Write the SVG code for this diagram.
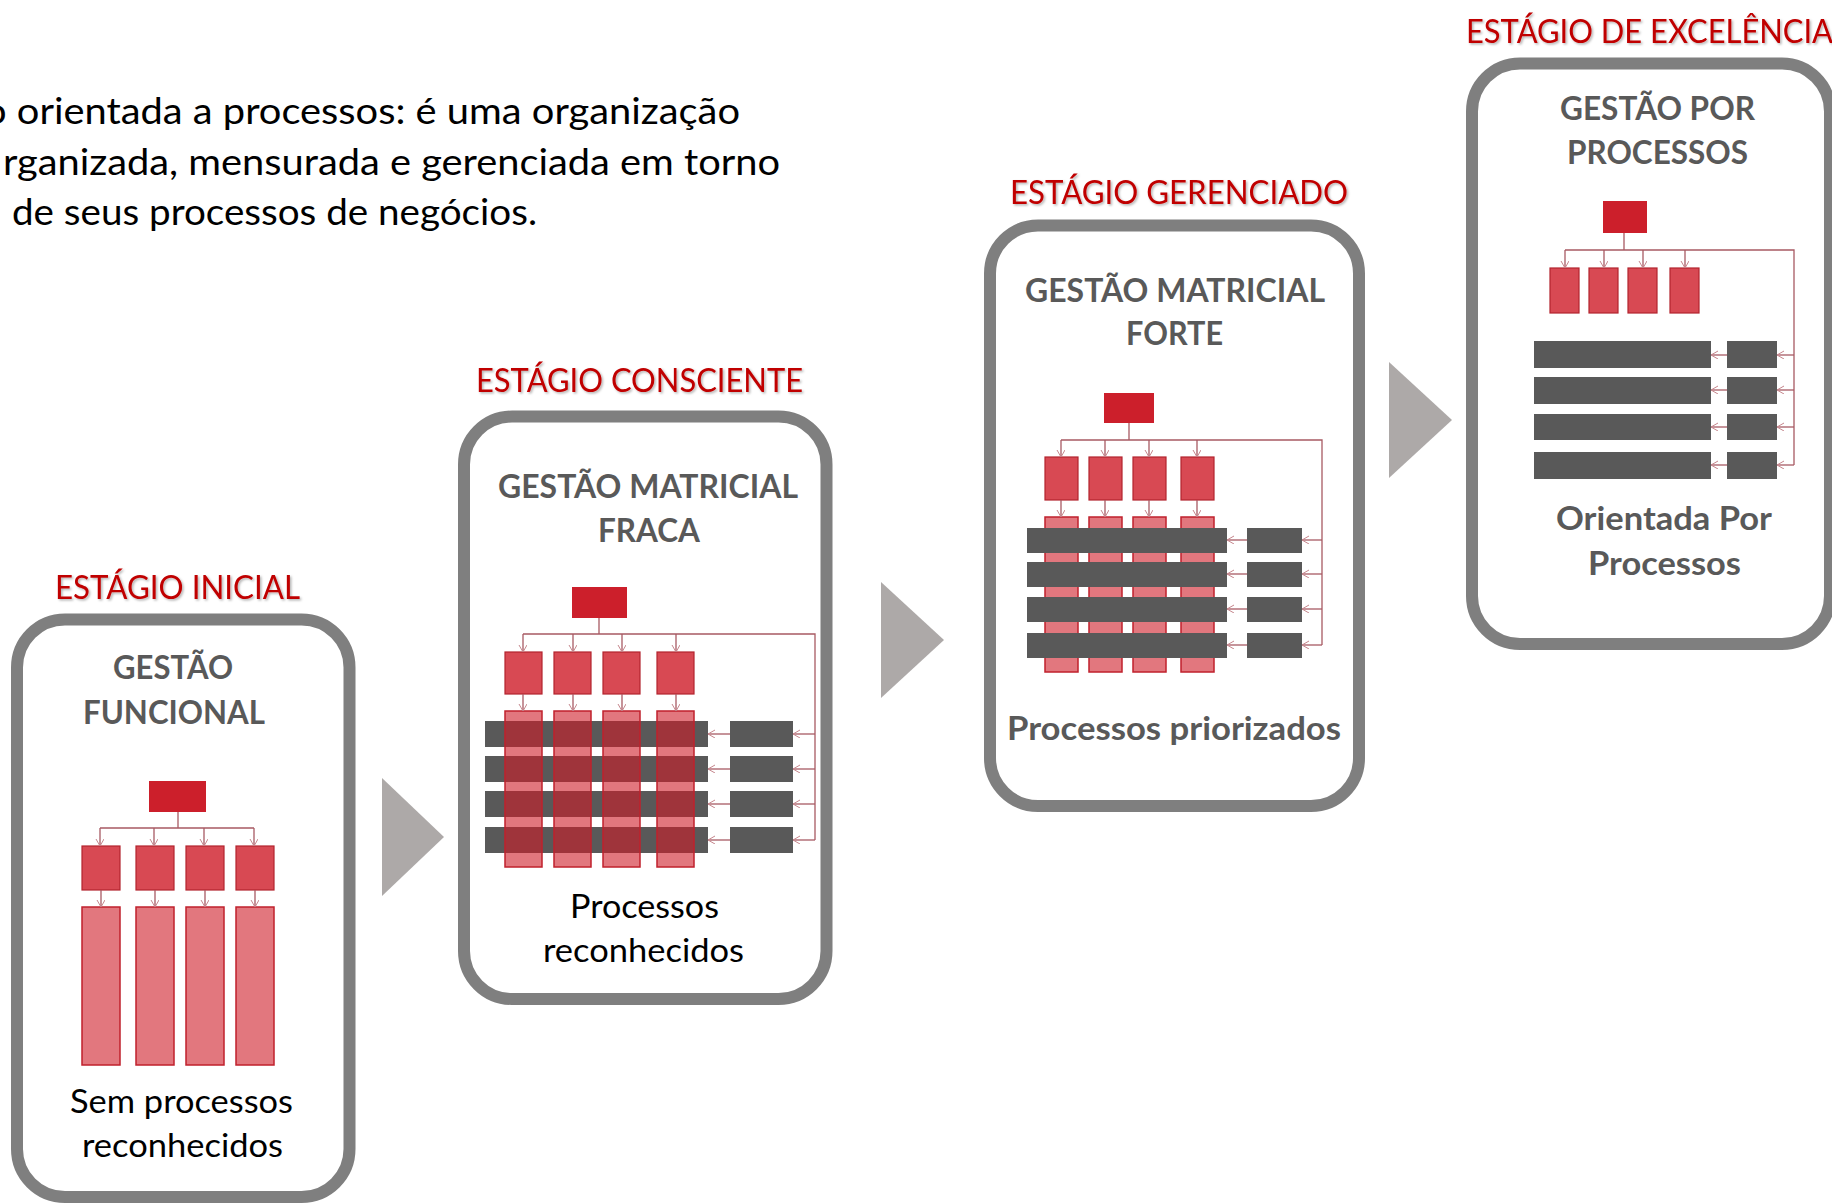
<svg xmlns="http://www.w3.org/2000/svg" width="1832" height="1204" viewBox="0 0 1832 1204">
<defs>
<style>
text{font-family:Lato,"Liberation Sans",sans-serif}
.intro{font-size:37.5px;fill:#000}
.stage{font-size:32.5px;fill:#C00000;filter:url(#sh)}
.title{font-size:32.5px;font-weight:700;fill:#595959}
.body{font-size:32.5px;fill:#000}
.panel{fill:#fff;stroke:#7F7F7F;stroke-width:12}
.head{fill:#CC1F2B}
.mid{fill:#CE1C28;fill-opacity:.8;stroke:#B3232E;stroke-width:1.2}
.tall{fill:#CE1C28;fill-opacity:.6;stroke:#C0202C;stroke-width:1.5}
.bar{fill:#595959}
.tri{fill:#ADA9A8}
.conn{fill:none;stroke:#A85A63;stroke-width:1.3}
.arr{fill:none;stroke:#A85A63;stroke-width:1.3;marker-end:url(#ah)}
</style>
<filter id="sh" x="-5%" y="-20%" width="110%" height="150%">
<feDropShadow dx="1.5" dy="1.5" stdDeviation="1" flood-color="#000" flood-opacity="0.3"/>
</filter>
<marker id="ah" markerUnits="userSpaceOnUse" markerWidth="10" markerHeight="10" refX="7" refY="4" orient="auto">
<path d="M0,0 L7,4 L0,8" fill="none" stroke="#C5868C" stroke-width="1"/>
</marker>
</defs>
<rect width="1832" height="1204" fill="#fff"/>

<g id="intro-text">
<text class="intro" x="-16" y="124" textLength="756" lengthAdjust="spacingAndGlyphs">o orientada a processos: é uma organização</text>
<text class="intro" x="3" y="174.5" textLength="777" lengthAdjust="spacingAndGlyphs">rganizada, mensurada e gerenciada em torno</text>
<text class="intro" x="12" y="225" textLength="525" lengthAdjust="spacingAndGlyphs">de seus processos de negócios.</text>
</g>

<g id="stage-1">
<text class="stage" x="55" y="599" textLength="245" lengthAdjust="spacingAndGlyphs">ESTÁGIO INICIAL</text>
<rect class="panel" x="17" y="619.5" width="332.5" height="577.5" rx="48"/>
<text class="title" x="113" y="679" textLength="120" lengthAdjust="spacingAndGlyphs">GESTÃO</text>
<text class="title" x="83" y="724" textLength="182" lengthAdjust="spacingAndGlyphs">FUNCIONAL</text>
<rect class="head" x="149" y="781" width="57" height="31"/>
<rect class="mid" x="82" y="846" width="38" height="44"/>
<rect class="mid" x="136" y="846" width="38" height="44"/>
<rect class="mid" x="186" y="846" width="38" height="44"/>
<rect class="mid" x="236" y="846" width="38" height="44"/>
<rect class="tall" x="82" y="907" width="38" height="158"/>
<rect class="tall" x="136" y="907" width="38" height="158"/>
<rect class="tall" x="186" y="907" width="38" height="158"/>
<rect class="tall" x="236" y="907" width="38" height="158"/>
<text class="body" x="70" y="1113" textLength="223" lengthAdjust="spacingAndGlyphs">Sem processos</text>
<text class="body" x="82" y="1157" textLength="201" lengthAdjust="spacingAndGlyphs">reconhecidos</text>
</g>

<g id="stage-2">
<text class="stage" x="476" y="392" textLength="327" lengthAdjust="spacingAndGlyphs">ESTÁGIO CONSCIENTE</text>
<rect class="panel" x="464" y="416.5" width="362.5" height="582.5" rx="48"/>
<text class="title" x="498" y="498" textLength="300" lengthAdjust="spacingAndGlyphs">GESTÃO MATRICIAL</text>
<text class="title" x="598" y="542" textLength="102" lengthAdjust="spacingAndGlyphs">FRACA</text>
<rect class="head" x="572" y="587" width="55" height="31"/>
<rect class="mid" x="505" y="652" width="37" height="42"/>
<rect class="mid" x="554" y="652" width="37" height="42"/>
<rect class="mid" x="603" y="652" width="37" height="42"/>
<rect class="mid" x="657" y="652" width="37" height="42"/>
<rect class="bar" x="485" y="721" width="223" height="26"/>
<rect class="bar" x="485" y="756" width="223" height="26"/>
<rect class="bar" x="485" y="791" width="223" height="26"/>
<rect class="bar" x="485" y="827" width="223" height="26"/>
<rect class="bar" x="730" y="721" width="63" height="26"/>
<rect class="bar" x="730" y="756" width="63" height="26"/>
<rect class="bar" x="730" y="791" width="63" height="26"/>
<rect class="bar" x="730" y="827" width="63" height="26"/>
<rect class="tall" x="505" y="711" width="37" height="156"/>
<rect class="tall" x="554" y="711" width="37" height="156"/>
<rect class="tall" x="603" y="711" width="37" height="156"/>
<rect class="tall" x="657" y="711" width="37" height="156"/>
<text class="body" x="570" y="918" textLength="149" lengthAdjust="spacingAndGlyphs">Processos</text>
<text class="body" x="543" y="962" textLength="201" lengthAdjust="spacingAndGlyphs">reconhecidos</text>
</g>

<g id="stage-3">
<text class="stage" x="1010" y="204" textLength="338" lengthAdjust="spacingAndGlyphs">ESTÁGIO GERENCIADO</text>
<rect class="panel" x="990" y="225.5" width="369" height="580.5" rx="48"/>
<text class="title" x="1025" y="302" textLength="300" lengthAdjust="spacingAndGlyphs">GESTÃO MATRICIAL</text>
<text class="title" x="1126" y="345" textLength="97" lengthAdjust="spacingAndGlyphs">FORTE</text>
<rect class="head" x="1104" y="393" width="50" height="30"/>
<rect class="mid" x="1045" y="457" width="33" height="43"/>
<rect class="mid" x="1089" y="457" width="33" height="43"/>
<rect class="mid" x="1133" y="457" width="33" height="43"/>
<rect class="mid" x="1181" y="457" width="33" height="43"/>
<rect class="tall" x="1045" y="517" width="33" height="155"/>
<rect class="tall" x="1089" y="517" width="33" height="155"/>
<rect class="tall" x="1133" y="517" width="33" height="155"/>
<rect class="tall" x="1181" y="517" width="33" height="155"/>
<rect class="bar" x="1027" y="528" width="200" height="25"/>
<rect class="bar" x="1027" y="562" width="200" height="25"/>
<rect class="bar" x="1027" y="597" width="200" height="25"/>
<rect class="bar" x="1027" y="633" width="200" height="25"/>
<rect class="bar" x="1247" y="528" width="55" height="25"/>
<rect class="bar" x="1247" y="562" width="55" height="25"/>
<rect class="bar" x="1247" y="597" width="55" height="25"/>
<rect class="bar" x="1247" y="633" width="55" height="25"/>
<text class="title" x="1007" y="740" textLength="334" lengthAdjust="spacingAndGlyphs">Processos priorizados</text>
</g>

<g id="stage-4">
<text class="stage" x="1466" y="43" textLength="367" lengthAdjust="spacingAndGlyphs">ESTÁGIO DE EXCELÊNCIA</text>
<rect class="panel" x="1472" y="63.5" width="358" height="580.5" rx="48"/>
<text class="title" x="1560" y="120" textLength="195" lengthAdjust="spacingAndGlyphs">GESTÃO POR</text>
<text class="title" x="1567" y="164" textLength="181" lengthAdjust="spacingAndGlyphs">PROCESSOS</text>
<rect class="head" x="1603" y="201" width="44" height="32"/>
<rect class="mid" x="1550" y="268" width="29" height="45"/>
<rect class="mid" x="1589" y="268" width="29" height="45"/>
<rect class="mid" x="1628" y="268" width="29" height="45"/>
<rect class="mid" x="1670" y="268" width="29" height="45"/>
<rect class="bar" x="1534" y="341" width="177" height="27"/>
<rect class="bar" x="1534" y="377" width="177" height="27"/>
<rect class="bar" x="1534" y="414" width="177" height="26"/>
<rect class="bar" x="1534" y="452" width="177" height="27"/>
<rect class="bar" x="1727" y="341" width="50" height="27"/>
<rect class="bar" x="1727" y="377" width="50" height="27"/>
<rect class="bar" x="1727" y="414" width="50" height="26"/>
<rect class="bar" x="1727" y="452" width="50" height="27"/>
<text class="title" x="1556" y="530" textLength="216" lengthAdjust="spacingAndGlyphs">Orientada Por</text>
<text class="title" x="1588" y="575" textLength="153" lengthAdjust="spacingAndGlyphs">Processos</text>
</g>

<g id="stage-arrows">
<polygon class="tri" points="382,778 444,837 382,896"/>
<polygon class="tri" points="881,582 944,640 881,698"/>
<polygon class="tri" points="1389,362 1452,420 1389,478"/>
</g>

<g id="connectors">
<path class="conn" d="M178,812 V828 M100,828 H254"/>
<path class="arr" d="M100,828 V846"/><path class="arr" d="M154,828 V846"/><path class="arr" d="M204,828 V846"/><path class="arr" d="M254,828 V846"/>
<path class="arr" d="M101,890 V907"/><path class="arr" d="M155,890 V907"/><path class="arr" d="M205,890 V907"/><path class="arr" d="M255,890 V907"/>

<path class="conn" d="M599,618 V634 M523,634 H815 V840"/>
<path class="arr" d="M523,634 V652"/><path class="arr" d="M573,634 V652"/><path class="arr" d="M622,634 V652"/><path class="arr" d="M676,634 V652"/>
<path class="arr" d="M523,694 V711"/><path class="arr" d="M573,694 V711"/><path class="arr" d="M622,694 V711"/><path class="arr" d="M676,694 V711"/>
<path class="arr" d="M815,734 H793"/><path class="arr" d="M815,769 H793"/><path class="arr" d="M815,804 H793"/><path class="arr" d="M815,840 H793"/>
<path class="arr" d="M730,734 H708"/><path class="arr" d="M730,769 H708"/><path class="arr" d="M730,804 H708"/><path class="arr" d="M730,840 H708"/>

<path class="conn" d="M1129,423 V440 M1061,440 H1322 V645"/>
<path class="arr" d="M1061,440 V457"/><path class="arr" d="M1105,440 V457"/><path class="arr" d="M1149,440 V457"/><path class="arr" d="M1197,440 V457"/>
<path class="arr" d="M1061,500 V517"/><path class="arr" d="M1105,500 V517"/><path class="arr" d="M1149,500 V517"/><path class="arr" d="M1197,500 V517"/>
<path class="arr" d="M1322,540 H1302"/><path class="arr" d="M1322,574 H1302"/><path class="arr" d="M1322,609 H1302"/><path class="arr" d="M1322,645 H1302"/>
<path class="arr" d="M1247,540 H1227"/><path class="arr" d="M1247,574 H1227"/><path class="arr" d="M1247,609 H1227"/><path class="arr" d="M1247,645 H1227"/>

<path class="conn" d="M1624,233 V250 M1565,250 H1794 V465"/>
<path class="arr" d="M1565,250 V268"/><path class="arr" d="M1604,250 V268"/><path class="arr" d="M1643,250 V268"/><path class="arr" d="M1685,250 V268"/>
<path class="arr" d="M1794,355 H1777"/><path class="arr" d="M1794,390 H1777"/><path class="arr" d="M1794,427 H1777"/><path class="arr" d="M1794,465 H1777"/>
<path class="arr" d="M1727,355 H1711"/><path class="arr" d="M1727,390 H1711"/><path class="arr" d="M1727,427 H1711"/><path class="arr" d="M1727,465 H1711"/>
</g>
</svg>
